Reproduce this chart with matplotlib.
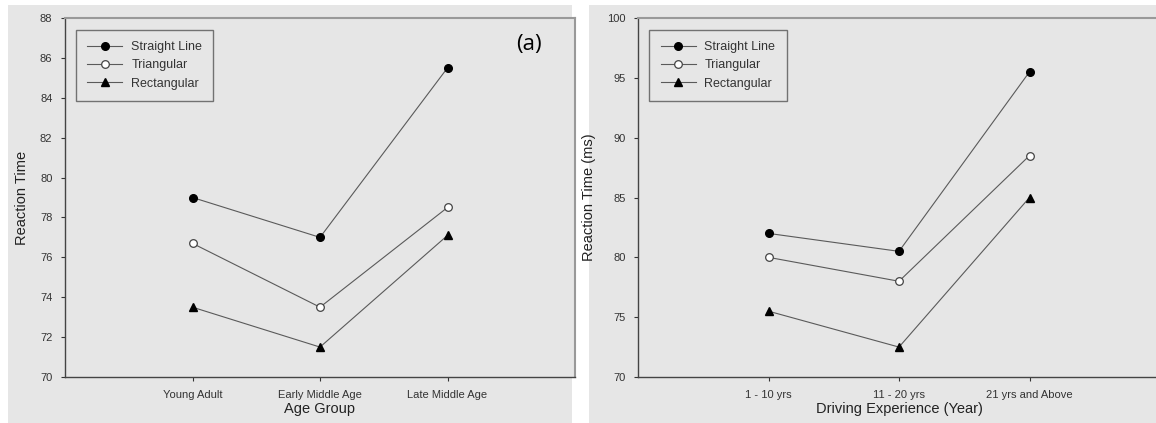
import matplotlib.pyplot as plt
from matplotlib.patches import Rectangle

# Panel (a): age groups
age_groups = ["Young Adult", "Early Middle Age", "Late Middle Age"]
age_straight = [79.0, 77.0, 85.5]
age_triangular = [76.7, 73.5, 78.5]
age_rectangular = [73.5, 71.5, 77.1]

# Panel (b): driving experience
exp_groups = ["1 - 10 yrs", "11 - 20 yrs", "21 yrs and Above"]
exp_straight = [82.0, 80.5, 95.5]
exp_triangular = [80.0, 78.0, 88.5]
exp_rectangular = [75.5, 72.5, 85.0]

series_names = ["Straight Line", "Triangular", "Rectangular"]

W, H = 1156, 423
fig = plt.figure(figsize=(W / 100, H / 100), dpi=100, facecolor="white")
plt.rcParams['font.family'] = ['Liberation Sans', 'DejaVu Sans']

bg = "#e6e6e6"
# gray panel backgrounds, kept behind the axes
fig.patches.append(Rectangle((8 / W, 0), (572 - 8) / W, (H - 5) / H,
                             transform=fig.transFigure, facecolor=bg, edgecolor="none", zorder=-10))
fig.patches.append(Rectangle((589 / W, 0), (W - 589) / W, (H - 5) / H,
                             transform=fig.transFigure, facecolor=bg, edgecolor="none", zorder=-10))

ax1 = fig.add_axes([65 / W, 1 - 377 / H, 510 / W, 359 / H])
ax2 = fig.add_axes([638 / W, 1 - 377 / H, 522 / W, 359 / H])


def draw(ax, cats, s1, s2, s3, ylim, yticks, xlabel, ylabel):
    x = range(1, len(cats) + 1)
    ax.set_facecolor(bg)
    lc = "#5a5a5a"
    ax.plot(x, s1, color=lc, lw=0.8, marker="o", ms=5.5, mfc="black", mec="black",
            label=series_names[0])
    ax.plot(x, s2, color=lc, lw=0.8, marker="o", ms=5.5, mfc="white", mec="#444444",
            mew=0.9, label=series_names[1])
    ax.plot(x, s3, color=lc, lw=0.8, marker="^", ms=5.5, mfc="black", mec="black",
            label=series_names[2])
    ax.set_xlim(0, 4)
    ax.set_ylim(*ylim)
    ax.set_yticks(yticks)
    ax.set_xticks(list(x))
    ax.set_xticklabels(cats)
    ax.tick_params(labelsize=8, colors="#333333", length=3, width=0.8, pad=6)
    ax.set_xlabel(xlabel, fontsize=10.5, color="#222222", labelpad=2)
    ax.set_ylabel(ylabel, fontsize=10.5, color="#222222", labelpad=8)
    for side in ["left", "bottom"]:
        ax.spines[side].set_color("#444444")
        ax.spines[side].set_linewidth(1.0)
    for side in ["top", "right"]:
        ax.spines[side].set_color("#999999")
        ax.spines[side].set_linewidth(1.5)
    leg = ax.legend(loc="upper left", bbox_to_anchor=(0.022, 0.967), fontsize=9,
                    frameon=True, fancybox=False, edgecolor="#555555",
                    facecolor=bg, handlelength=2.8, borderpad=0.9,
                    labelspacing=0.5, handletextpad=0.7, borderaxespad=0)
    leg.get_frame().set_linewidth(1.0)
    for t in leg.get_texts():
        t.set_color("#333333")


draw(ax1, age_groups, age_straight, age_triangular, age_rectangular,
     (70, 88), range(70, 89, 2), "Age Group", "Reaction Time")
draw(ax2, exp_groups, exp_straight, exp_triangular, exp_rectangular,
     (70, 100), range(70, 101, 5), "Driving Experience (Year)", "Reaction Time (ms)")

ax1.text(0.91, 0.925, "(a)", transform=ax1.transAxes, fontsize=16,
         family=["Open Sans", "DejaVu Sans"], ha="center", va="center", color="black")

fig.savefig("out.png", dpi=100)
